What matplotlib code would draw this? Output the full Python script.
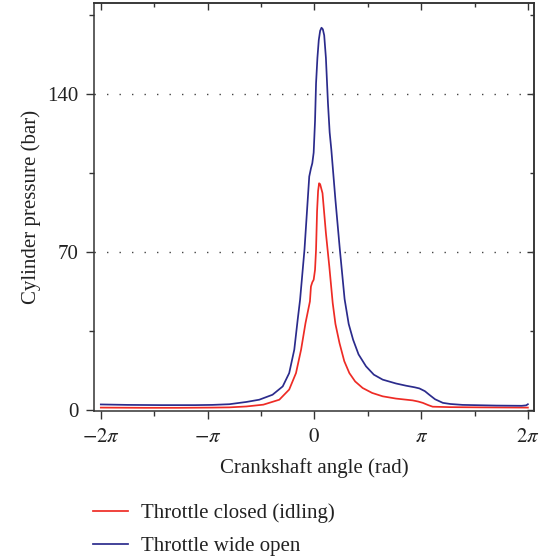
import numpy as np
import matplotlib
matplotlib.use('Agg')
import matplotlib.pyplot as plt

plt.rcParams['font.family'] = ['Liberation Serif', 'DejaVu Serif']
plt.rcParams['font.size'] = 15
plt.rcParams['mathtext.fontset'] = 'stix'

# crank angle (rad) / cylinder pressure (bar)
angle_closed = [-6.28, -5.0, -4.0, -3.0, -2.5, -2.0, -1.5, -1.03, -0.74, -0.54,
                -0.39, -0.26, -0.18, -0.13, -0.10, -0.06, -0.02, 0.02, 0.05, 0.08,
                0.11, 0.14, 0.17, 0.24, 0.34, 0.44, 0.54, 0.62, 0.74, 0.88,
                1.03, 1.20, 1.42, 1.70, 2.01, 2.40, 2.89, 3.05, 3.19, 3.35,
                3.48, 4.0, 4.86, 6.28]
p_closed = [0.9, 0.8, 0.8, 0.9, 1.0, 1.4, 2.2, 4.4, 8.9, 16.2,
            26.6, 38.4, 44.3, 48.0, 54.6, 56.5, 57.6, 62.0, 71.0, 88.0,
            97.0, 100.4, 100.0, 96.0, 78.3, 63.5, 47.3, 38.0, 29.5, 21.5,
            16.2, 12.5, 9.6, 7.4, 5.9, 4.9, 4.1, 3.6, 3.0, 2.0,
            1.3, 1.1, 1.0, 0.9]

angle_open = [-6.28, -5.5, -4.5, -3.5, -3.0, -2.5, -2.0, -1.62, -1.23, -0.93,
              -0.74, -0.59, -0.49, -0.42, -0.29, -0.15, -0.10, -0.06, -0.02, 0.02,
              0.05, 0.09, 0.13, 0.17, 0.21, 0.25, 0.29, 0.34, 0.40, 0.45, 0.50,
              0.62, 0.75, 0.89, 1.01, 1.14, 1.30, 1.52, 1.75, 2.01, 2.40,
              2.70, 2.95, 3.09, 3.25, 3.38, 3.55, 3.78, 4.0, 4.36, 5.35,
              6.10, 6.23, 6.28]
p_open = [2.3, 2.1, 2.0, 2.0, 2.1, 2.4, 3.4, 4.4, 6.6, 10.3,
          16.2, 26.6, 39.9, 48.7, 71.0, 103.4, 107.0, 109.3, 114.0, 128.0,
          144.7, 156.0, 163.9, 168.0, 169.4, 168.7, 166.0, 156.0, 136.0, 123.0, 115.2,
          93.0, 71.0, 49.0, 38.0, 31.0, 24.5, 19.2, 15.5, 13.3, 11.6,
          10.6, 9.9, 9.4, 8.2, 6.6, 4.6, 3.0, 2.5, 2.1, 1.8,
          1.7, 1.9, 2.4]

x_ticks = [-2 * np.pi, -np.pi, 0, np.pi, 2 * np.pi]
x_labels = [r'$-2\pi$', r'$-\pi$', r'$0$', r'$\pi$', r'$2\pi$']
x_minor = [-1.5 * np.pi, -0.5 * np.pi, 0.5 * np.pi, 1.5 * np.pi]
y_ticks = [0, 70, 140]
y_minor = [35, 105, 175]

red = '#ee2b25'
blue = '#2b2b8c'
spine = '#333333'

fig = plt.figure(figsize=(5.54, 5.59), dpi=100)
ax = fig.add_axes([0.1697, 0.2648, 0.7942, 0.7304])

for y in y_ticks[1:]:
    ax.axhline(y, color='#444444', linestyle=(0, (1, 8)), linewidth=1.0, zorder=1)

ax.plot(angle_closed, p_closed, color=red, linewidth=1.25, label='Throttle closed (idling)', zorder=3)
ax.plot(angle_open, p_open, color=blue, linewidth=1.25, label='Throttle wide open', zorder=3)

ax.set_xlim(-6.48, 6.46)
ax.set_ylim(-0.6, 180.5)
ax.set_xticks(x_ticks)
ax.set_xticklabels(x_labels)
ax.set_xticks(x_minor, minor=True)
ax.set_yticks(y_ticks)
ax.set_yticks(y_minor, minor=True)
ax.tick_params(which='major', direction='out', length=6, width=1, color=spine, labelcolor='#222222')
ax.tick_params(which='minor', direction='out', length=3.5, width=1, color=spine)
ax.tick_params(axis='x', which='major', pad=6)
ax.tick_params(axis='y', which='major', pad=5)

# inward ticks on top and right
top = ax.secondary_xaxis('top')
top.set_xticks(x_ticks)
top.set_xticks(x_minor, minor=True)
top.tick_params(which='both', direction='in', labeltop=False, color=spine, width=1)
top.tick_params(which='major', length=5)
top.tick_params(which='minor', length=3)
right = ax.secondary_yaxis('right')
right.set_yticks(y_ticks)
right.set_yticks(y_minor, minor=True)
right.tick_params(which='both', direction='in', labelright=False, color=spine, width=1)
right.tick_params(which='major', length=5)
right.tick_params(which='minor', length=3)
for a in (ax, top, right):
    for s in a.spines.values():
        s.set_color(spine)
        s.set_linewidth(1.1)

ax.set_xlabel('Crankshaft angle (rad)', color='#222222', labelpad=8)
ax.set_ylabel('Cylinder pressure (bar)', color='#222222', labelpad=5)

fig.legend(loc='upper left', bbox_to_anchor=(0.168, 0.100), frameon=False,
           handlelength=1.68, handletextpad=0.6, labelspacing=0.66,
           borderpad=0, borderaxespad=0, labelcolor='#222222')

fig.savefig('out.png', dpi=100)
